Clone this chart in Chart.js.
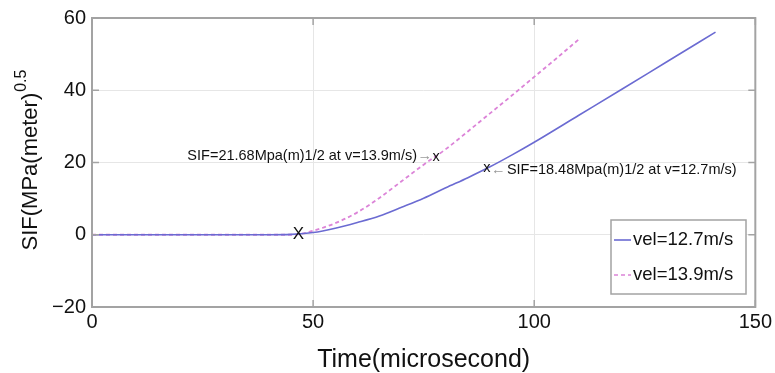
<!DOCTYPE html>
<html>
<head>
<meta charset="utf-8">
<script src="https://cdn.jsdelivr.net/npm/chart.js@4.4.0/dist/chart.umd.min.js"></script>
<style>
html, body { margin: 0; background: #fff; }
</style>
</head>
<body>
<canvas id="sif-chart" width="775" height="373"></canvas>
<script>
// SIF vs time for two impact velocities
const time127 = [0, 10, 20, 30, 40, 45, 50, 55, 60, 65, 70, 75, 80, 85, 90, 95, 100, 110, 120, 130, 141];
const sif127  = [0, 0, 0, 0, 0, 0.1, 0.6, 1.8, 3.4, 5.2, 7.6, 10.1, 13, 15.8, 18.8, 22.1, 25.6, 33, 40.4, 47.9, 56.1];
const time139 = [0, 10, 20, 30, 40, 45, 47, 50, 55, 60, 65, 70, 75, 80, 85, 90, 95, 100, 105, 110];
const sif139  = [0, 0, 0, 0, 0, 0, 0.2, 1.1, 3.2, 6.2, 10.2, 14.8, 19.4, 23.7, 28.6, 33.6, 38.6, 43.7, 48.8, 54];

const xTicks = [0, 50, 100, 150];
const yTicks = [-20, 0, 20, 40, 60];

// marked points
const noteTimes  = [77.8, 89.3];
const noteValues = [21.68, 18.48];
const noteTexts  = ['SIF=21.68Mpa(m)1/2 at v=13.9m/s)', 'SIF=18.48Mpa(m)1/2 at v=12.7m/s)'];
const onsetTime = 46.7, onsetValue = 0;

const FONT = '"Liberation Sans", Arial, Helvetica, sans-serif';
const BLUE = '#6b6bd2';
const PINK = '#dc84d8';
const BOX = '#a3a3a3';

const toXY = (ts, vs) => ts.map((t, i) => ({ x: t, y: vs[i] }));

const overlay = {
    id: 'overlay',
    afterDatasetsDraw(chart) {
        const { ctx, scales: { x, y } } = chart;
        ctx.save();
        ctx.fillStyle = '#111';
        ctx.textAlign = 'center';
        ctx.textBaseline = 'middle';
        ctx.font = '17px ' + FONT;
        ctx.fillText('X', x.getPixelForValue(onsetTime), y.getPixelForValue(onsetValue));

        ctx.font = '14.5px ' + FONT;
        // left note (13.9 m/s)
        let px = x.getPixelForValue(noteTimes[0]), py = y.getPixelForValue(noteValues[0]);
        ctx.fillStyle = '#111';
        ctx.fillText('x', px, py + 1);
        ctx.fillStyle = '#999';
        ctx.textAlign = 'right';
        ctx.fillText('\u2192', px - 4, py);
        ctx.fillStyle = '#111';
        ctx.fillText(noteTexts[0], px - 19, py);
        // right note (12.7 m/s)
        px = x.getPixelForValue(noteTimes[1]); py = y.getPixelForValue(noteValues[1]);
        ctx.textAlign = 'center';
        ctx.fillText('x', px, py);
        ctx.fillStyle = '#999';
        ctx.textAlign = 'left';
        ctx.fillText('\u2190', px + 4, py + 2);
        ctx.fillStyle = '#111';
        ctx.fillText(noteTexts[1], px + 20, py + 2);
        ctx.restore();
    },
    afterDraw(chart) {
        const { ctx, chartArea: a, scales: { x, y } } = chart;
        ctx.save();
        // frame + inward ticks
        ctx.strokeStyle = BOX;
        ctx.lineWidth = 2;
        ctx.strokeRect(a.left, a.top, a.right - a.left, a.bottom - a.top);
        ctx.lineWidth = 1.5;
        ctx.beginPath();
        xTicks.forEach(v => {
            const p = x.getPixelForValue(v);
            ctx.moveTo(p, a.top); ctx.lineTo(p, a.top + 7);
            ctx.moveTo(p, a.bottom); ctx.lineTo(p, a.bottom - 7);
        });
        yTicks.forEach(v => {
            const p = y.getPixelForValue(v);
            ctx.moveTo(a.left, p); ctx.lineTo(a.left + 7, p);
            ctx.moveTo(a.right, p); ctx.lineTo(a.right - 7, p);
        });
        ctx.stroke();

        // legend
        const lx = 611, ly = 220, lw = 135, lh = 74;
        ctx.fillStyle = '#fff';
        ctx.fillRect(lx, ly, lw, lh);
        ctx.strokeStyle = BOX;
        ctx.lineWidth = 1.5;
        ctx.strokeRect(lx, ly, lw, lh);
        chart.data.datasets.forEach((ds, i) => {
            const yy = ly + 20 + i * 35;
            ctx.strokeStyle = ds.borderColor;
            ctx.lineWidth = 1.6;
            ctx.setLineDash(ds.borderDash || []);
            ctx.beginPath();
            ctx.moveTo(lx + 3, yy); ctx.lineTo(lx + 20, yy);
            ctx.stroke();
            ctx.setLineDash([]);
            ctx.fillStyle = '#111';
            ctx.font = '18.5px ' + FONT;
            ctx.textAlign = 'left';
            ctx.textBaseline = 'middle';
            ctx.fillText(ds.label, lx + 22, yy);
        });

        // y title with superscript
        ctx.translate(31, (a.top + a.bottom) / 2 - 2);
        ctx.rotate(-Math.PI / 2);
        const main = 'SIF(MPa(meter)', sup = '0.5';
        ctx.font = '22px ' + FONT;
        const w1 = ctx.measureText(main).width;
        ctx.font = '16px ' + FONT;
        const w2 = ctx.measureText(sup).width;
        const sx = -(w1 + w2) / 2;
        ctx.fillStyle = '#111';
        ctx.textAlign = 'left';
        ctx.textBaseline = 'middle';
        ctx.font = '22px ' + FONT;
        ctx.fillText(main, sx, 0);
        ctx.font = '16px ' + FONT;
        ctx.fillText(sup, sx + w1 + 1, -9);
        ctx.restore();
    }
};

const ctx = document.getElementById('sif-chart').getContext('2d');
const sifChart = new Chart(ctx, {
    type: 'line',
    data: {
        datasets: [
            {
                label: 'vel=12.7m/s',
                data: toXY(time127, sif127),
                borderColor: BLUE,
                borderWidth: 1.6,
                pointRadius: 0,
                cubicInterpolationMode: 'monotone',
                fill: false,
            },
            {
                label: 'vel=13.9m/s',
                data: toXY(time139, sif139),
                borderColor: PINK,
                borderWidth: 1.8,
                borderDash: [4, 3],
                pointRadius: 0,
                cubicInterpolationMode: 'monotone',
                fill: false,
            }
        ]
    },
    options: {
        responsive: false,
        animation: false,
        layout: { padding: { top: 15, right: 16, left: 0, bottom: 0 } },
        plugins: {
            legend: { display: false },
            tooltip: { enabled: false }
        },
        scales: {
            x: {
                type: 'linear',
                min: 0,
                max: 150,
                afterBuildTicks: s => { s.ticks = xTicks.map(v => ({ value: v })); },
                afterFit: s => { s.height = 66; },
                grid: { color: '#e6e6e6', drawTicks: false },
                border: { display: false },
                ticks: { font: { family: FONT, size: 20 }, color: '#111', padding: 3, maxRotation: 0 },
                title: {
                    display: true, text: 'Time(microsecond)',
                    font: { family: FONT, size: 25, lineHeight: 1 }, color: '#111',
                    padding: { top: 0, bottom: 0 }
                }
            },
            y: {
                min: -20,
                max: 60,
                afterBuildTicks: s => { s.ticks = yTicks.map(v => ({ value: v })); },
                afterFit: s => { s.width = 92; },
                grid: { color: '#e6e6e6', drawTicks: false },
                border: { display: false },
                ticks: {
                    font: { family: FONT, size: 20 }, color: '#111', padding: 6,
                    callback: v => v < 0 ? '\u2212' + Math.abs(v) : v
                }
            }
        }
    },
    plugins: [overlay]
});
</script>
</body>
</html>
